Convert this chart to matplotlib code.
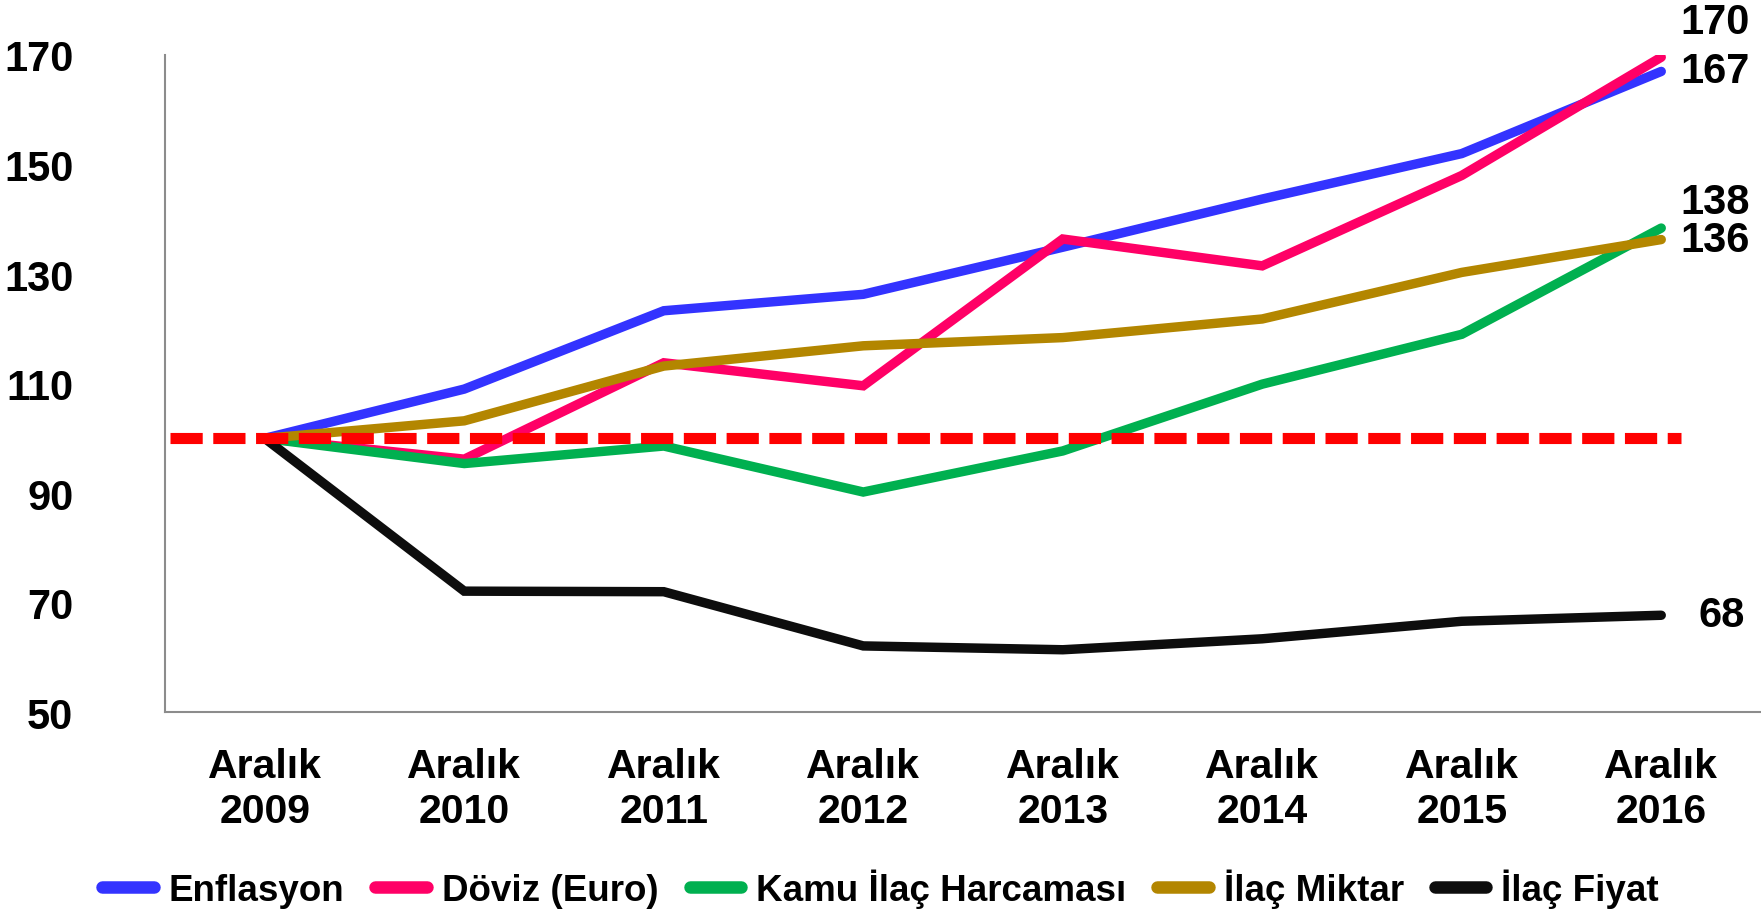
import matplotlib
matplotlib.use('Agg')
import matplotlib.pyplot as plt

plt.rcParams['font.family'] = ['Liberation Sans', 'DejaVu Sans']
plt.rcParams['font.weight'] = 'bold'

years = ['2009', '2010', '2011', '2012', '2013', '2014', '2015', '2016']
enflasyon = [100, 109.0, 123.3, 126.3, 134.9, 143.7, 152.0, 167.0]
doviz = [100, 96.2, 113.8, 109.6, 136.4, 131.5, 148.0, 169.6]
kamu = [100, 95.4, 98.6, 90.2, 97.7, 109.9, 119.0, 138.4]
miktar = [100, 103.2, 113.2, 116.9, 118.4, 121.8, 130.3, 136.3]
fiyat = [100, 72.1, 72.0, 62.1, 61.4, 63.4, 66.6, 67.7]
end_labels = ['167', '170', '138', '136', '68']
yticks = [50, 70, 90, 110, 130, 150, 170]

series = [
    ('Enflasyon', enflasyon, '#3333FF'),
    ('Döviz (Euro)', doviz, '#FF0066'),
    ('Kamu İlaç Harcaması', kamu, '#00B050'),
    ('İlaç Miktar', miktar, '#B38600'),
    ('İlaç Fiyat', fiyat, '#0D0D0D'),
]
# label offsets (points) for the end-of-line numbers
offsets = [(14, 0), (14, 25), (14, 19), (14, 0), (27, 0)]

fig = plt.figure(figsize=(17.61, 9.12), dpi=100)
ax = fig.add_axes([0.0937, 0.218, 0.9063, 0.7206])

x = list(range(len(years)))
for (name, vals, col), lab, off in zip(series, end_labels, offsets):
    ax.plot(x, vals, color=col, lw=6.8, solid_capstyle='round',
            solid_joinstyle='miter', label=name, zorder=3)
    ax.annotate(lab, (x[-1], vals[-1]), xytext=off, textcoords='offset points',
                ha='left', va='center', fontsize=30, fontweight='bold',
                annotation_clip=False)

ax.axhline(100, xmin=0.003, xmax=0.95, color='#FF0000', lw=8,
           dashes=(2.9, 0.95), dash_capstyle='butt', zorder=4)

ax.set_xlim(-0.5, 7.5)
ax.set_ylim(50, 170)
ax.set_yticks(yticks)
ax.set_xticks(x)
ax.set_xticklabels(['Aralık\n' + y for y in years], fontsize=29.5,
                   fontweight='bold', linespacing=1.22)
ax.tick_params(axis='x', length=0, pad=25)
ax.tick_params(axis='y', length=0, pad=66, labelsize=30)
for t in ax.get_yticklabels():
    t.set_fontweight('bold')

for s in ['top', 'right']:
    ax.spines[s].set_visible(False)
for s in ['left', 'bottom']:
    ax.spines[s].set_color('#8C8C8C')
    ax.spines[s].set_linewidth(1.5)

leg = fig.legend(loc='center', bbox_to_anchor=(0.5, 0.025), ncol=5,
                 frameon=False, handlelength=1.4,
                 handletextpad=0.4, columnspacing=0.85,
                 prop={'weight': 'bold', 'size': 26.5})
for h in leg.legend_handles:
    h.set_linewidth(9)

fig.savefig('out.png', dpi=100)
